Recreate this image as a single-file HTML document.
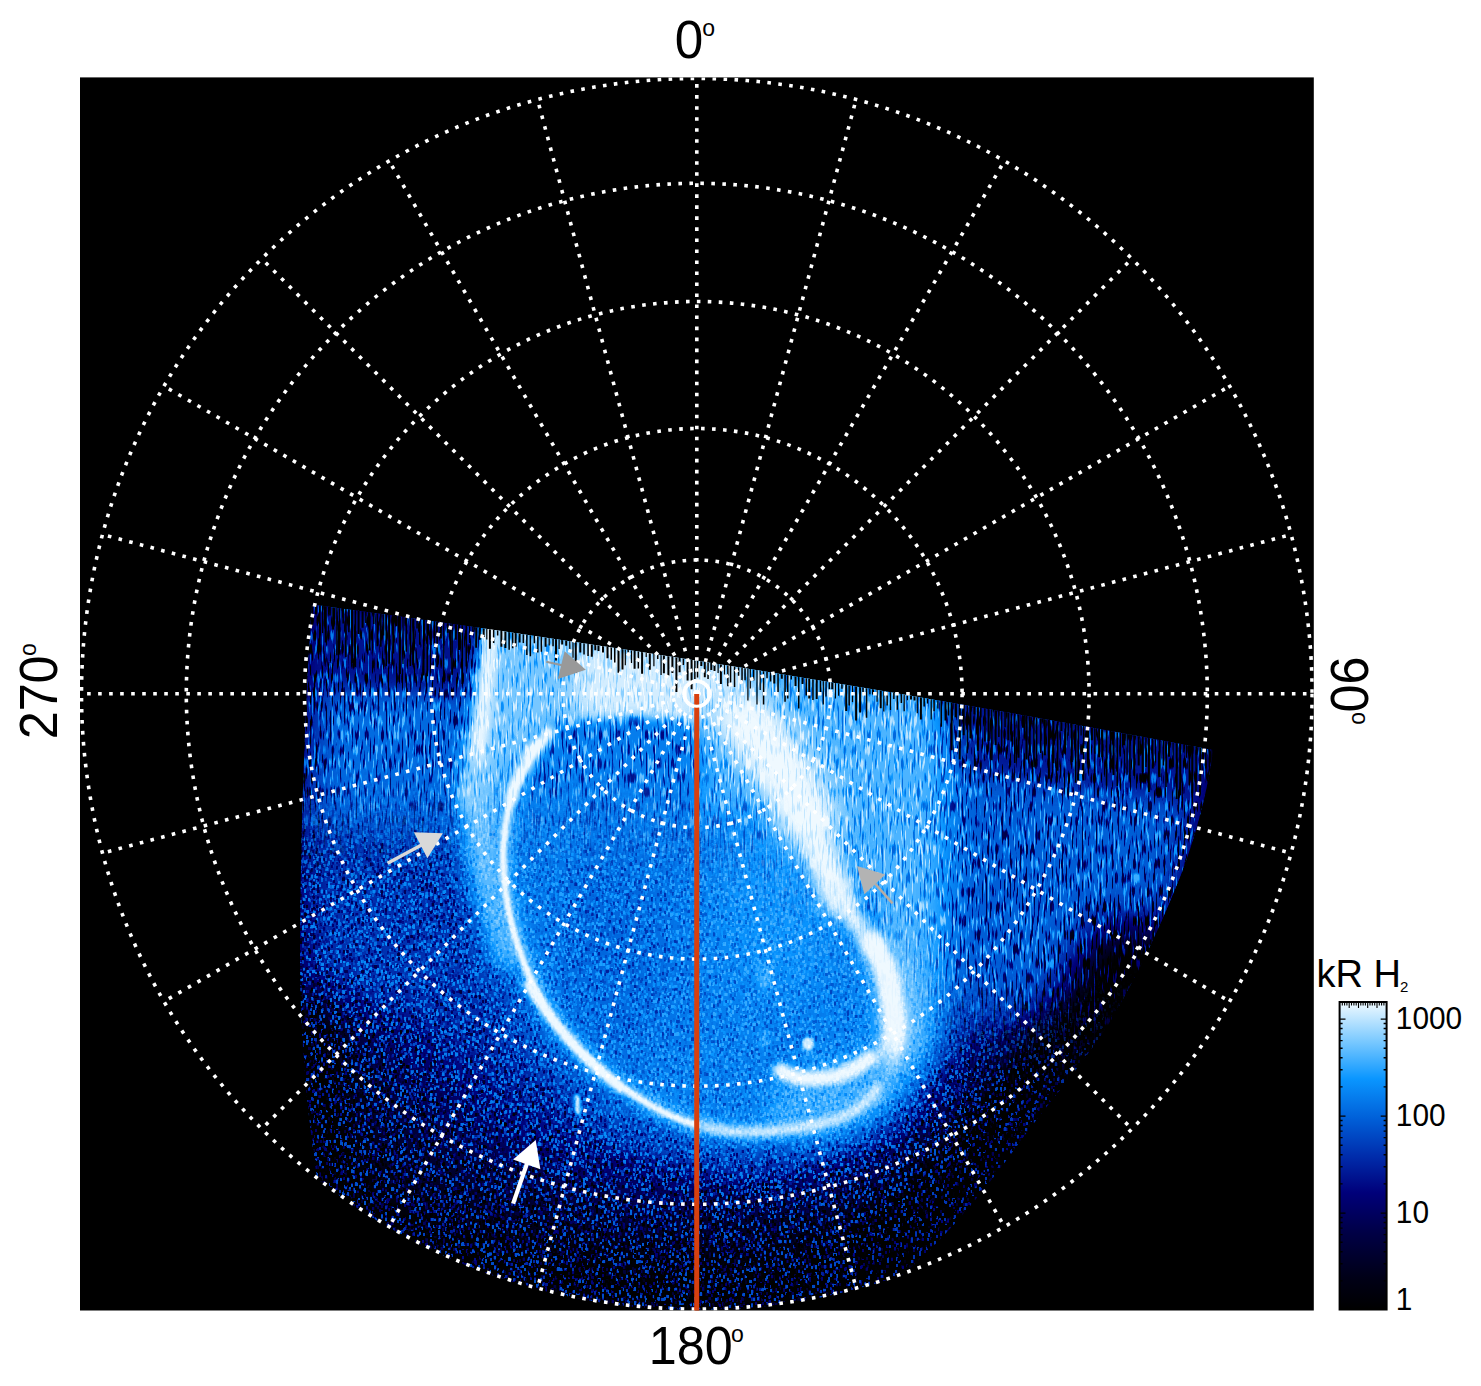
<!DOCTYPE html>
<html lang="en"><head><meta charset="utf-8"><title>Polar projection</title>
<style>html,body{margin:0;padding:0;background:#fff}svg{display:block}text{font-family:"Liberation Sans",sans-serif;fill:#000}.grid{fill:none;stroke:#fff;stroke-width:3.6;stroke-dasharray:3.6 7.4}</style></head><body>
<svg width="1481" height="1386" viewBox="0 0 1481 1386">
<defs>
<clipPath id="frame"><rect x="80.0" y="77.4" width="1233.8" height="1233.1"/></clipPath>
<linearGradient id="cbar" x1="0" y1="1" x2="0" y2="0">
<stop offset="0.0" stop-color="rgb(0,0,0)"/>
<stop offset="0.1" stop-color="rgb(0,0,22)"/>
<stop offset="0.25" stop-color="rgb(0,0,70)"/>
<stop offset="0.38" stop-color="rgb(0,0,122)"/>
<stop offset="0.5" stop-color="rgb(0,45,172)"/>
<stop offset="0.62" stop-color="rgb(0,95,216)"/>
<stop offset="0.75" stop-color="rgb(10,150,255)"/>
<stop offset="0.87" stop-color="rgb(120,200,255)"/>
<stop offset="1.0" stop-color="rgb(240,250,255)"/>
</linearGradient>
<filter id="cmS" filterUnits="userSpaceOnUse" x="80.0" y="77.4" width="1233.8" height="1233.1" color-interpolation-filters="sRGB">
<feTurbulence type="fractalNoise" baseFrequency="0.47 0.40" numOctaves="1" seed="7" result="n"/>
<feColorMatrix in="n" type="matrix" values="10 0 0 0 -6.000 0 10 0 0 -6.500 0 0 0 0 0 0 0 0 0 1" result="m0"/>
<feOffset in="m0" dx="1" dy="0" result="m0x"/>
<feBlend in="m0" in2="m0x" mode="lighten" result="m1"/>
<feOffset in="m1" dx="0" dy="1" result="m1y"/>
<feBlend in="m1" in2="m1y" mode="lighten" result="m2"/>
<feOffset in="m1" dx="0" dy="2" result="m1z"/>
<feBlend in="m2" in2="m1z" mode="lighten" result="m3"/>
<feColorMatrix in="m3" type="matrix" values="1 0 0 0 0 1 0 0 0 0 1 0 0 0 0 0 0 0 0 1" result="nb"/>
<feColorMatrix in="m3" type="matrix" values="0 1 0 0 0 0 1 0 0 0 0 1 0 0 0 0 0 0 0 1" result="nd"/>
<feComponentTransfer in="SourceGraphic" result="aB"><feFuncR type="table" tableValues="0.62 0.55 0.48 0.4 0.33 0.26 0.19 0.115 0.06 0.035 0.02"/><feFuncG type="table" tableValues="0.62 0.55 0.48 0.4 0.33 0.26 0.19 0.115 0.06 0.035 0.02"/><feFuncB type="table" tableValues="0.62 0.55 0.48 0.4 0.33 0.26 0.19 0.115 0.06 0.035 0.02"/></feComponentTransfer>
<feComponentTransfer in="SourceGraphic" result="aD"><feFuncR type="table" tableValues="1 1 0.9 0.76 0.63 0.5 0.36 0.22 0.12 0.05 0.01"/><feFuncG type="table" tableValues="1 1 0.9 0.76 0.63 0.5 0.36 0.22 0.12 0.05 0.01"/><feFuncB type="table" tableValues="1 1 0.9 0.76 0.63 0.5 0.36 0.22 0.12 0.05 0.01"/></feComponentTransfer>
<feComposite in="aB" in2="nb" operator="arithmetic" k1="1" k2="0" k3="0" k4="0" result="tB"/>
<feComposite in="aD" in2="nd" operator="arithmetic" k1="1" k2="0" k3="0" k4="0" result="tD0"/>
<feComponentTransfer in="tD0" result="tD"><feFuncR type="linear" slope="-1" intercept="1"/><feFuncG type="linear" slope="-1" intercept="1"/><feFuncB type="linear" slope="-1" intercept="1"/></feComponentTransfer>
<feComposite in="SourceGraphic" in2="tB" operator="arithmetic" k1="0" k2="1" k3="1" k4="0" result="r1"/>
<feBlend in="r1" in2="tD" mode="multiply"/>
<feComponentTransfer>
<feFuncR type="table" tableValues="0.000 0.000 0.000 0.000 0.000 0.000 0.000 0.000 0.000 0.000 0.000 0.000 0.000 0.000 0.000 0.000 0.000 0.000 0.000 0.000 0.000 0.000 0.000 0.000 0.000 0.000 0.000 0.000 0.000 0.000 0.000 0.000 0.000 0.000 0.000 0.006 0.014 0.022 0.031 0.039 0.139 0.239 0.339 0.439 0.539 0.640 0.740 0.841 0.941"/>
<feFuncG type="table" tableValues="0.000 0.000 0.000 0.000 0.000 0.000 0.000 0.000 0.000 0.000 0.000 0.000 0.000 0.000 0.000 0.000 0.000 0.000 0.000 0.000 0.000 0.000 0.000 0.000 0.000 0.000 0.013 0.054 0.095 0.136 0.176 0.222 0.267 0.313 0.358 0.404 0.450 0.496 0.542 0.588 0.634 0.679 0.724 0.770 0.813 0.855 0.897 0.938 0.980"/>
<feFuncB type="table" tableValues="0.000 0.000 0.000 0.000 0.000 0.000 0.000 0.000 0.000 0.000 0.000 0.000 0.000 0.024 0.048 0.072 0.100 0.135 0.170 0.205 0.240 0.275 0.318 0.362 0.405 0.449 0.493 0.538 0.584 0.629 0.675 0.714 0.754 0.794 0.834 0.869 0.902 0.935 0.967 1.000 1.000 1.000 1.000 1.000 1.000 1.000 1.000 1.000 1.000"/>
</feComponentTransfer>
</filter>
<filter id="cmV" filterUnits="userSpaceOnUse" x="80.0" y="77.4" width="1233.8" height="1233.1" color-interpolation-filters="sRGB">
<feTurbulence type="fractalNoise" baseFrequency="0.5 0.07" numOctaves="1" seed="11" result="n"/>
<feColorMatrix in="n" type="matrix" values="8 0 0 0 -4.320 0 8 0 0 -4.320 0 0 0 0 0 0 0 0 0 1" result="m0"/>
<feColorMatrix in="m0" type="matrix" values="1 0 0 0 0 1 0 0 0 0 1 0 0 0 0 0 0 0 0 1" result="nb"/>
<feColorMatrix in="m0" type="matrix" values="0 1 0 0 0 0 1 0 0 0 0 1 0 0 0 0 0 0 0 1" result="nd"/>
<feComponentTransfer in="SourceGraphic" result="aB"><feFuncR type="table" tableValues="0.4 0.37 0.33 0.3 0.26 0.22 0.19 0.15 0.12 0.08 0.04"/><feFuncG type="table" tableValues="0.4 0.37 0.33 0.3 0.26 0.22 0.19 0.15 0.12 0.08 0.04"/><feFuncB type="table" tableValues="0.4 0.37 0.33 0.3 0.26 0.22 0.19 0.15 0.12 0.08 0.04"/></feComponentTransfer>
<feComponentTransfer in="SourceGraphic" result="aD"><feFuncR type="table" tableValues="1 1 1 1 0.89 0.75 0.58 0.4 0.24 0.12 0.04"/><feFuncG type="table" tableValues="1 1 1 1 0.89 0.75 0.58 0.4 0.24 0.12 0.04"/><feFuncB type="table" tableValues="1 1 1 1 0.89 0.75 0.58 0.4 0.24 0.12 0.04"/></feComponentTransfer>
<feComposite in="aB" in2="nb" operator="arithmetic" k1="1" k2="0" k3="0" k4="0" result="tB"/>
<feComposite in="aD" in2="nd" operator="arithmetic" k1="1" k2="0" k3="0" k4="0" result="tD0"/>
<feComponentTransfer in="tD0" result="tD"><feFuncR type="linear" slope="-1" intercept="1"/><feFuncG type="linear" slope="-1" intercept="1"/><feFuncB type="linear" slope="-1" intercept="1"/></feComponentTransfer>
<feComposite in="SourceGraphic" in2="tB" operator="arithmetic" k1="0" k2="1" k3="1" k4="0" result="r1"/>
<feBlend in="r1" in2="tD" mode="multiply"/>
<feComponentTransfer>
<feFuncR type="table" tableValues="0.000 0.000 0.000 0.000 0.000 0.000 0.000 0.000 0.000 0.000 0.000 0.000 0.000 0.000 0.000 0.000 0.000 0.000 0.000 0.000 0.000 0.000 0.000 0.000 0.000 0.000 0.000 0.000 0.000 0.000 0.000 0.000 0.000 0.000 0.000 0.006 0.014 0.022 0.031 0.039 0.139 0.239 0.339 0.439 0.539 0.640 0.740 0.841 0.941"/>
<feFuncG type="table" tableValues="0.000 0.000 0.000 0.000 0.000 0.000 0.000 0.000 0.000 0.000 0.000 0.000 0.000 0.000 0.000 0.000 0.000 0.000 0.000 0.000 0.000 0.000 0.000 0.000 0.000 0.000 0.013 0.054 0.095 0.136 0.176 0.222 0.267 0.313 0.358 0.404 0.450 0.496 0.542 0.588 0.634 0.679 0.724 0.770 0.813 0.855 0.897 0.938 0.980"/>
<feFuncB type="table" tableValues="0.000 0.000 0.000 0.000 0.000 0.000 0.000 0.000 0.000 0.000 0.000 0.000 0.000 0.024 0.048 0.072 0.100 0.135 0.170 0.205 0.240 0.275 0.318 0.362 0.405 0.449 0.493 0.538 0.584 0.629 0.675 0.714 0.754 0.794 0.834 0.869 0.902 0.935 0.967 1.000 1.000 1.000 1.000 1.000 1.000 1.000 1.000 1.000 1.000"/>
</feComponentTransfer>
</filter>
<clipPath id="data"><path d="M312 604.5 Q763 665 1213 750 C1208 790 1196 835 1182 872 C1165 915 1142 968 1111 1020 C1085 1062 1050 1100 1014 1150 C985 1190 950 1232 917 1262 C900 1278 885 1290 872 1300 L800 1311 L300 1311 L318 1185 C308 1120 300 1040 300 960 C300 850 305 700 312 604.5Z"/></clipPath>
<clipPath id="outer"><circle cx="696.8" cy="693.8" r="616.3"/></clipPath>
<filter id="mblur" filterUnits="userSpaceOnUse" x="0" y="0" width="1481" height="1386"><feGaussianBlur stdDeviation="35"/></filter>
<mask id="topmask" maskUnits="userSpaceOnUse" x="0" y="0" width="1481" height="1386"><path d="M200 500 L1400 500 L1400 1040 L1000 1040 C900 1000 850 860 700 830 C550 800 400 830 200 830Z" fill="#fff" filter="url(#mblur)"/></mask>
</defs>
<rect x="80.0" y="77.4" width="1233.8" height="1233.1" fill="#000"/>
<defs><g id="inten">
<rect x="80.0" y="77.4" width="1233.8" height="1233.1" fill="#000"/>
<path d="M312 604.5 Q763 665 1213 750 C1208 790 1196 835 1182 872 C1165 915 1142 968 1111 1020 C1085 1062 1050 1100 1014 1150 C985 1190 950 1232 917 1262 C900 1278 885 1290 872 1300 L800 1311 L300 1311 L318 1185 C308 1120 300 1040 300 960 C300 850 305 700 312 604.5Z" fill="#4b4b4b"/>
<ellipse cx="680" cy="930" rx="400" ry="330" fill="#707070" filter="url(#b60)"/>
<ellipse cx="700" cy="900" rx="330" ry="275" fill="#9f9f9f" filter="url(#b40)"/>
<path d="M300 660 L480 670 L480 860 L296 860Z" fill="#bcbcbc" filter="url(#b25)"/>
<path d="M296 840 L470 840 L480 1010 L296 1010Z" fill="#a1a1a1" filter="url(#b25)"/>
<path d="M305 590 L480 615 L480 692 L305 680Z" fill="#929292" filter="url(#b10)"/>
<path d="M900 730 L1215 775 L1175 960 L1100 1040 L900 1000Z" fill="#b6b6b6" filter="url(#b25)"/>
<path d="M960 690 L1215 735 L1207 800 L960 770Z" fill="#949494" filter="url(#b10)"/>
<path d="M1150 940 C1140 968 1125 995 1111 1020 C1085 1062 1050 1100 1014 1150 C985 1190 950 1232 917 1262 C900 1278 885 1290 860 1310" fill="none" stroke="#000" stroke-width="90" filter="url(#b25)" opacity="0.85"/>
<path d="M300 1330 L300 1215 C450 1245 600 1260 700 1260 C800 1260 900 1250 1000 1215 L1000 1330Z" fill="#000" filter="url(#b40)" opacity="0.4"/>
<path d="M280 1000 L330 1000 L345 1320 L280 1320Z" fill="#000" filter="url(#b25)" opacity="0.6"/>
<path d="M548 735 C600 720 660 715 700 728 C740 735 790 760 830 820 C865 870 895 930 900 1010 C900 1060 880 1095 850 1112 C800 1135 740 1135 697 1124 C650 1112 600 1075 565 1035 C530 990 503 920 503 855 C505 800 520 765 548 735Z" fill="none" stroke="#b2b2b2" stroke-width="76" stroke-linecap="round" stroke-linejoin="round" filter="url(#b14)"/>
<path d="M700 630 L950 670 L950 900 L940 1040 L905 1100 L870 1000 L760 780 L700 740Z" fill="#dddddd" filter="url(#b16)"/>
<path d="M486 600 L700 630 L700 724 L616 724 L557 727 L540 743 L517 766 L503 800 L500 850 L505 905 L522 960 L500 975 L478 905 L464 850 L457 790 L460 760 L466 732Z" fill="#e6e6e6" filter="url(#b10)"/>
<path d="M492 620 C488 670 483 715 476 765" fill="none" stroke="#ffffff" stroke-width="17" stroke-linecap="butt" stroke-linejoin="round" filter="url(#b5)"/>
<path d="M476 755 C473 775 470 790 466 810" fill="none" stroke="#ececec" stroke-width="14" stroke-linecap="butt" stroke-linejoin="round" filter="url(#b6)"/>
<path d="M585 640 L740 660 L745 720 L700 735 L640 718 L590 722 L570 700Z" fill="#f9f9f9" filter="url(#b10)"/>
<path d="M548 735 C600 720 660 715 700 728 C740 735 790 760 830 820 C865 870 895 930 900 1010 C900 1060 880 1095 850 1112 C800 1135 740 1135 697 1124 C650 1112 600 1075 565 1035 C530 990 503 920 503 855 C505 800 520 765 548 735Z" fill="#c4c4c4" filter="url(#b6)"/>
<ellipse cx="610" cy="955" rx="65" ry="120" fill="#bababa" filter="url(#b25)"/>
<ellipse cx="780" cy="900" rx="60" ry="100" fill="#cfcfcf" filter="url(#b25)"/>
<path d="M700 705 L745 720 L770 790 L740 820 L700 815Z" fill="#d9d9d9" filter="url(#b12)"/>
<path d="M738 712 C765 740 790 775 808 815" fill="none" stroke="#f5f5f5" stroke-width="70" stroke-linecap="round" stroke-linejoin="round" filter="url(#b14)"/>
<path d="M808 815 C816 835 824 860 842 900" fill="none" stroke="#f2f2f2" stroke-width="40" stroke-linecap="round" stroke-linejoin="round" filter="url(#b10)"/>
<path d="M746 722 C770 750 792 785 806 815" fill="none" stroke="#ffffff" stroke-width="44" stroke-linecap="round" stroke-linejoin="round" filter="url(#b8)"/>
<path d="M806 815 C814 835 822 862 840 898" fill="none" stroke="#ffffff" stroke-width="24" stroke-linecap="round" stroke-linejoin="round" filter="url(#b6)"/>
<path d="M836 890 C848 912 860 930 875 948" fill="none" stroke="#fbfbfb" stroke-width="18" stroke-linecap="round" stroke-linejoin="round" filter="url(#b4)"/>
<path d="M873 943 C886 965 893 990 895 1030 C893 1052 886 1066 869 1085" fill="none" stroke="#ececec" stroke-width="42" stroke-linecap="round" stroke-linejoin="round" filter="url(#b10)" opacity="0.7"/>
<path d="M873 943 C886 965 893 990 895 1030 C893 1052 886 1066 869 1085" fill="none" stroke="#ffffff" stroke-width="24" stroke-linecap="round" stroke-linejoin="round" filter="url(#b3)"/>
<ellipse cx="835" cy="1095" rx="70" ry="38" fill="#d9d9d9" filter="url(#b12)" transform="rotate(-20 835 1095)"/>
<path d="M780 1070 C790 1076 800 1079 808 1079 C822 1079 832 1077 841 1075 C852 1070 862 1065 870 1058" fill="none" stroke="#ffffff" stroke-width="15" stroke-linecap="round" stroke-linejoin="round" filter="url(#b3)"/>
<ellipse cx="808" cy="1044" rx="6" ry="7" fill="#f9f9f9" filter="url(#b1_5)"/>
<ellipse cx="765" cy="977" rx="6" ry="12" fill="#dddddd" filter="url(#b3)"/>
<ellipse cx="765" cy="1040" rx="5" ry="9" fill="#d9d9d9" filter="url(#b3)"/>
<path d="M697 1125 C720 1131 745 1134 769 1131 C790 1130 815 1126 841 1118 C858 1110 870 1100 878 1088" fill="none" stroke="#d9d9d9" stroke-width="24" stroke-linecap="round" stroke-linejoin="round" filter="url(#b6)" opacity="0.7"/>
<path d="M697 1125 C720 1131 745 1134 769 1131 C790 1130 815 1126 841 1118 C858 1110 870 1100 878 1088" fill="none" stroke="#f9f9f9" stroke-width="10" stroke-linecap="round" stroke-linejoin="round" filter="url(#b3)"/>
<path d="M577 1100 C580 1118 600 1135 631 1145 C650 1150 665 1151 680 1150" fill="none" stroke="#a9a9a9" stroke-width="8" stroke-linecap="round" stroke-linejoin="round" filter="url(#b3)"/>
<path d="M577 1097 L578 1112" fill="none" stroke="#f5f5f5" stroke-width="6" stroke-linecap="round" stroke-linejoin="round" filter="url(#b1_5)"/>
<path d="M548 733 C520 765 505 800 503 855 C503 920 528 990 565 1035 C600 1075 650 1112 697 1125" fill="none" stroke="#e2e2e2" stroke-width="18" stroke-linecap="round" stroke-linejoin="round" filter="url(#b6)"/>
<path d="M548 733 C520 765 505 800 503 855 C503 920 528 990 565 1035 C600 1075 650 1112 697 1125" fill="none" stroke="#ffffff" stroke-width="6.5" stroke-linecap="round" stroke-linejoin="round" filter="url(#b1_5)"/>
<path d="M528 985 C540 1005 552 1020 565 1035 C582 1055 600 1072 620 1088" fill="none" stroke="#ffffff" stroke-width="9" stroke-linecap="round" stroke-linejoin="round" filter="url(#b2)"/>
<path d="M548 733 C530 752 518 772 510 800" fill="none" stroke="#ffffff" stroke-width="12" stroke-linecap="round" stroke-linejoin="round" filter="url(#b3)"/>
</g>
<filter id="b1_5" filterUnits="userSpaceOnUse" x="0" y="0" width="1481" height="1386"><feGaussianBlur stdDeviation="1.5"/></filter>
<filter id="b2" filterUnits="userSpaceOnUse" x="0" y="0" width="1481" height="1386"><feGaussianBlur stdDeviation="2"/></filter>
<filter id="b3" filterUnits="userSpaceOnUse" x="0" y="0" width="1481" height="1386"><feGaussianBlur stdDeviation="3"/></filter>
<filter id="b4" filterUnits="userSpaceOnUse" x="0" y="0" width="1481" height="1386"><feGaussianBlur stdDeviation="4"/></filter>
<filter id="b5" filterUnits="userSpaceOnUse" x="0" y="0" width="1481" height="1386"><feGaussianBlur stdDeviation="5"/></filter>
<filter id="b6" filterUnits="userSpaceOnUse" x="0" y="0" width="1481" height="1386"><feGaussianBlur stdDeviation="6"/></filter>
<filter id="b8" filterUnits="userSpaceOnUse" x="0" y="0" width="1481" height="1386"><feGaussianBlur stdDeviation="8"/></filter>
<filter id="b10" filterUnits="userSpaceOnUse" x="0" y="0" width="1481" height="1386"><feGaussianBlur stdDeviation="10"/></filter>
<filter id="b12" filterUnits="userSpaceOnUse" x="0" y="0" width="1481" height="1386"><feGaussianBlur stdDeviation="12"/></filter>
<filter id="b14" filterUnits="userSpaceOnUse" x="0" y="0" width="1481" height="1386"><feGaussianBlur stdDeviation="14"/></filter>
<filter id="b16" filterUnits="userSpaceOnUse" x="0" y="0" width="1481" height="1386"><feGaussianBlur stdDeviation="16"/></filter>
<filter id="b25" filterUnits="userSpaceOnUse" x="0" y="0" width="1481" height="1386"><feGaussianBlur stdDeviation="25"/></filter>
<filter id="b40" filterUnits="userSpaceOnUse" x="0" y="0" width="1481" height="1386"><feGaussianBlur stdDeviation="40"/></filter>
<filter id="b60" filterUnits="userSpaceOnUse" x="0" y="0" width="1481" height="1386"><feGaussianBlur stdDeviation="60"/></filter>
</defs>
<g clip-path="url(#outer)"><g clip-path="url(#data)">
<use href="#inten" filter="url(#cmS)"/>
<g mask="url(#topmask)"><use href="#inten" filter="url(#cmV)"/></g>
<path d="M311.0 602.2v23.3h2v-23.3zM315.0 602.8v11.5h2v-11.5zM319.0 603.3v43.7h1.5v-43.7zM322.0 603.7v29.3h1.2v-29.3zM324.7 604.1v38.3h2v-38.3zM329.2 604.7v10.7h1.5v-10.7zM332.2 605.1v24.5h2v-24.5zM336.2 605.6v49.6h1.5v-49.6zM338.9 606.0v42.1h1.5v-42.1zM342.4 606.5v16.9h1.5v-16.9zM345.1 606.9v50.2h1.5v-50.2zM348.1 607.3v25.0h1.5v-25.0zM351.1 607.7v55.6h2v-55.6zM354.6 608.2v58.9h1.5v-58.9zM357.6 608.6v25.5h2v-25.5zM361.6 609.1v18.6h2v-18.6zM365.1 609.6v13.4h1.5v-13.4zM368.6 610.1v40.5h2v-40.5zM373.1 610.7v13.4h1.5v-13.4zM376.6 611.2v35.0h1.5v-35.0zM380.1 611.7v35.0h1.5v-35.0zM383.1 612.1v23.3h1.2v-23.3zM385.5 612.4v53.9h1.5v-53.9zM388.2 612.8v51.0h2v-51.0zM392.2 613.3v40.1h2v-40.1zM395.4 613.8v12.4h2v-12.4zM398.9 614.3v59.7h2v-59.7zM402.4 614.8v49.3h1.2v-49.3zM405.6 615.2v36.6h1.5v-36.6zM409.6 615.8v50.3h1.5v-50.3zM412.3 616.2v48.9h2v-48.9zM416.3 616.7v11.9h1.5v-11.9zM419.0 617.1v27.7h1.5v-27.7zM423.0 617.7v57.7h1.5v-57.7zM426.5 618.2v58.1h1.5v-58.1zM430.5 618.7v26.2h1.2v-26.2zM433.7 619.2v19.2h1.5v-19.2zM436.4 619.6v47.5h1.5v-47.5zM439.9 620.1v18.4h2v-18.4zM443.1 620.5v61.3h1.2v-61.3zM446.8 621.0v11.7h2v-11.7zM451.3 621.7v53.0h1.5v-53.0zM454.8 622.2v17.6h2v-17.6zM458.0 622.6v27.4h2v-27.4zM461.5 623.1v61.0h1.5v-61.0zM465.5 623.7v42.8h1.5v-42.8zM469.0 624.2v18.8h1.2v-18.8zM472.2 624.7v7.1h1.5v-7.1zM475.2 625.1v22.6h2v-22.6zM478.7 625.6v14.2h2v-14.2zM482.7 626.2v10.9h2v-10.9zM486.2 626.7v12.8h1.2v-12.8zM488.9 627.1v21.6h2v-21.6zM492.9 627.7v15.3h1.5v-15.3zM496.9 628.3v7.1h1.5v-7.1zM500.4 628.8v18.0h2v-18.0zM504.4 629.4v18.7h2v-18.7zM508.4 629.9v19.9h1.5v-19.9zM511.9 630.5v17.7h1.5v-17.7zM514.6 630.9v15.8h2v-15.8zM518.6 631.4v11.2h2v-11.2zM522.6 632.0v10.9h1.5v-10.9zM526.1 632.5v22.6h1.5v-22.6zM529.6 633.1v23.2h1.5v-23.2zM533.6 633.7v9.6h1.5v-9.6zM537.1 634.2v18.4h1.5v-18.4zM540.6 634.7v17.1h1.5v-17.1zM544.6 635.3v11.4h2v-11.4zM548.6 635.9v9.5h1.2v-9.5zM552.3 636.4v9.9h1.5v-9.9zM555.0 636.8v23.6h2v-23.6zM558.5 637.4v11.7h1.2v-11.7zM561.2 637.8v6.6h2v-6.6zM565.2 638.4v7.3h2v-7.3zM569.2 639.0v12.3h1.2v-12.3zM572.4 639.4v18.4h1.2v-18.4zM574.8 639.8v33.0h2v-33.0zM579.3 640.5v12.1h2v-12.1zM583.3 641.1v13.5h1.5v-13.5zM587.3 641.7v14.4h1.5v-14.4zM590.8 642.2v14.6h2v-14.6zM594.3 642.7v7.6h2v-7.6zM597.5 643.2v7.9h2v-7.9zM602.0 643.9v8.5h2v-8.5zM606.5 644.6v13.7h2v-13.7zM610.5 645.2v14.6h1.5v-14.6zM614.0 645.7v16.7h1.5v-16.7zM617.5 646.3v26.5h2v-26.5zM621.5 646.9v22.7h2v-22.7zM624.7 647.4v17.9h1.2v-17.9zM627.4 647.8v6.7h1.5v-6.7zM630.9 648.3v14.6h1.2v-14.6zM633.6 648.7v20.1h2v-20.1zM637.6 649.4v19.0h1.5v-19.0zM641.1 649.9v23.9h2v-23.9zM645.6 650.6v6.3h1.2v-6.3zM648.8 651.1v18.7h2v-18.7zM653.3 651.8v14.4h1.2v-14.4zM657.0 652.4v6.7h1.5v-6.7zM660.5 652.9v22.0h1.2v-22.0zM662.9 653.3v20.0h2v-20.0zM667.4 654.0v21.5h2v-21.5zM671.4 654.6v18.3h2v-18.3zM675.4 655.2v36.9h2v-36.9zM678.6 655.7v16.5h2v-16.5zM682.6 656.3v8.6h1.5v-8.6zM686.6 657.0v23.5h2v-23.5zM690.6 657.6v31.7h2v-31.7zM694.1 658.2v20.8h1.5v-20.8zM696.8 658.6v19.0h1.5v-19.0zM700.3 659.1v6.9h2v-6.9zM703.8 659.7v17.6h2v-17.6zM707.3 660.2v18.7h1.5v-18.7zM710.3 660.7v9.3h2v-9.3zM713.5 661.2v9.8h2v-9.8zM717.5 661.9v11.0h1.2v-11.0zM719.9 662.2v21.8h2v-21.8zM723.9 662.9v11.7h1.2v-11.7zM727.1 663.4v22.9h1.5v-22.9zM729.8 663.8v18.6h1.5v-18.6zM733.8 664.5v22.4h1.5v-22.4zM737.8 665.1v10.7h1.5v-10.7zM741.3 665.7v15.3h1.5v-15.3zM744.3 666.1v14.2h1.5v-14.2zM747.3 666.6v33.8h1.2v-33.8zM749.7 667.0v21.5h1.2v-21.5zM752.9 667.5v13.0h1.5v-13.0zM756.4 668.1v36.3h1.2v-36.3zM759.6 668.6v21.3h1.2v-21.3zM762.8 669.1v35.5h1.5v-35.5zM766.3 669.7v8.5h1.5v-8.5zM769.8 670.2v11.2h1.5v-11.2zM773.3 670.8v12.8h2v-12.8zM777.3 671.5v20.5h1.5v-20.5zM780.8 672.0v6.7h2v-6.7zM784.3 672.6v29.1h1.5v-29.1zM787.0 673.0v25.6h1.5v-25.6zM790.5 673.6v6.0h1.5v-6.0zM794.5 674.3v11.8h2v-11.8zM798.0 674.8v33.8h1.5v-33.8zM801.5 675.4v8.7h2v-8.7zM805.5 676.1v19.5h1.5v-19.5zM808.2 676.5v22.1h2v-22.1zM812.2 677.2v22.9h1.5v-22.9zM815.7 677.7v21.3h2v-21.3zM819.7 678.4v14.2h1.5v-14.2zM822.7 678.9v25.6h1.2v-25.6zM825.4 679.3v17.1h1.2v-17.1zM828.6 679.9v9.3h1.5v-9.3zM831.3 680.3v8.9h2v-8.9zM834.8 680.9v17.6h1.2v-17.6zM838.0 681.4v14.3h1.2v-14.3zM841.2 682.0v6.8h1.5v-6.8zM845.2 682.6v28.3h2v-28.3zM848.4 683.2v22.2h1.5v-22.2zM851.9 683.7v18.3h1.2v-18.3zM855.1 684.3v36.1h2v-36.1zM859.1 685.0v27.5h2v-27.5zM862.3 685.5v9.2h1.5v-9.2zM865.8 686.1v31.6h1.5v-31.6zM869.3 686.7v7.6h1.2v-7.6zM872.0 687.1v7.4h2v-7.4zM876.5 687.9v13.9h1.2v-13.9zM879.7 688.4v19.8h2v-19.8zM883.2 689.0v22.4h1.2v-22.4zM886.4 689.5v16.0h1.5v-16.0zM889.9 690.1v20.0h1.2v-20.0zM893.1 690.7v8.4h1.5v-8.4zM896.6 691.3v18.5h1.5v-18.5zM900.6 691.9v11.0h1.5v-11.0zM903.6 692.5v18.7h1.2v-18.7zM906.8 693.0v7.3h1.2v-7.3zM910.0 693.5v6.0h2v-6.0zM913.5 694.1v6.5h2v-6.5zM916.7 694.7v18.6h1.2v-18.6zM919.9 695.2v24.3h2v-24.3zM923.4 695.8v10.7h1.5v-10.7zM926.9 696.4v7.1h1.2v-7.1zM930.6 697.1v22.5h1.2v-22.5zM933.3 697.5v13.8h1.5v-13.8zM937.3 698.2v10.2h1.2v-10.2zM940.5 698.8v27.9h1.5v-27.9zM944.5 699.5v20.9h2v-20.9zM947.7 700.0v15.5h1.5v-15.5zM950.7 700.5v49.8h2v-49.8zM954.7 701.2v16.1h2v-16.1zM958.7 701.9v57.6h2v-57.6zM962.7 702.6v32.6h2v-32.6zM966.7 703.3v49.9h1.2v-49.9zM969.4 703.8v34.6h2v-34.6zM973.4 704.5v10.1h2v-10.1zM976.9 705.1v45.6h2v-45.6zM980.4 705.7v11.7h1.2v-11.7zM984.1 706.3v35.1h1.5v-35.1zM987.6 707.0v34.1h2v-34.1zM991.1 707.6v52.7h1.5v-52.7zM994.6 708.2v36.8h2v-36.8zM998.1 708.8v28.3h1.5v-28.3zM1001.1 709.3v42.1h1.2v-42.1zM1004.3 709.9v17.4h1.5v-17.4zM1007.3 710.4v29.8h2v-29.8zM1010.5 711.0v30.6h1.5v-30.6zM1014.0 711.6v51.4h1.5v-51.4zM1017.5 712.2v45.5h2v-45.5zM1022.0 713.0v14.7h2v-14.7zM1025.5 713.6v45.8h2v-45.8zM1028.7 714.2v41.5h2v-41.5zM1033.2 715.0v52.3h1.5v-52.3zM1035.9 715.5v45.3h1.5v-45.3zM1039.9 716.2v36.7h1.5v-36.7zM1043.9 716.9v38.4h2v-38.4zM1047.9 717.6v61.1h2v-61.1zM1052.4 718.4v44.8h2v-44.8zM1056.9 719.2v51.5h1.5v-51.5zM1060.4 719.9v11.0h2v-11.0zM1064.9 720.7v24.8h1.5v-24.8zM1067.6 721.2v14.5h1.2v-14.5zM1070.8 721.7v40.2h2v-40.2zM1074.8 722.4v60.4h1.5v-60.4zM1077.5 722.9v58.3h1.5v-58.3zM1080.5 723.5v12.0h1.2v-12.0zM1082.9 723.9v56.7h1.5v-56.7zM1086.9 724.6v39.2h2v-39.2zM1090.9 725.4v14.8h2v-14.8zM1094.1 725.9v27.8h1.5v-27.8zM1098.1 726.7v30.5h2v-30.5zM1101.3 727.2v29.7h2v-29.7zM1105.8 728.1v57.3h1.5v-57.3zM1109.8 728.8v30.1h1.5v-30.1zM1112.5 729.3v45.8h2v-45.8zM1116.5 730.0v56.1h1.5v-56.1zM1119.5 730.6v25.9h1.5v-25.9zM1123.0 731.2v14.1h2v-14.1zM1126.5 731.9v42.9h1.2v-42.9zM1129.2 732.3v44.1h1.5v-44.1zM1133.2 733.1v42.6h2v-42.6zM1137.7 733.9v31.7h2v-31.7zM1141.7 734.6v37.5h2v-37.5zM1145.2 735.3v31.8h1.5v-31.8zM1147.9 735.8v56.2h2v-56.2zM1151.9 736.5v31.9h1.5v-31.9zM1154.9 737.1v25.4h1.2v-25.4zM1158.6 737.8v39.3h2v-39.3zM1162.6 738.5v27.0h1.5v-27.0zM1165.3 739.0v47.9h1.5v-47.9zM1168.0 739.5v17.2h2v-17.2zM1172.5 740.4v26.6h1.2v-26.6zM1175.7 740.9v58.2h2v-58.2zM1179.2 741.6v53.7h2v-53.7zM1183.2 742.3v10.1h1.2v-10.1zM1185.9 742.9v14.8h1.2v-14.8zM1188.6 743.4v42.0h1.5v-42.0zM1191.3 743.9v49.4h2v-49.4zM1195.3 744.6v47.1h1.5v-47.1zM1199.3 745.4v42.5h2v-42.5zM1202.5 746.0v15.3h1.5v-15.3zM1205.2 746.5v20.7h1.5v-20.7zM1208.7 747.1v33.9h1.5v-33.9zM1211.4 747.6v31.0h1.5v-31.0z" fill="#000"/>
</g></g>
<g class="grid" clip-path="url(#frame)">
<circle cx="696.8" cy="693.8" r="615.3"/>
<circle cx="696.8" cy="693.8" r="510.5"/>
<circle cx="696.8" cy="693.8" r="392.3"/>
<circle cx="696.8" cy="693.8" r="265.3"/>
<circle cx="696.8" cy="693.8" r="133.8"/>
<path d="M696.8 693.8L696.8 78.5" stroke-dasharray="3.6 7.42"/>
<path d="M696.8 693.8L856.1 99.5" stroke-dasharray="3.6 7.42"/>
<path d="M696.8 693.8L1004.4 160.9" stroke-dasharray="3.6 7.42"/>
<path d="M696.8 693.8L1131.9 258.7" stroke-dasharray="3.6 7.42"/>
<path d="M696.8 693.8L1229.7 386.1" stroke-dasharray="3.6 7.42"/>
<path d="M696.8 693.8L1291.1 534.5" stroke-dasharray="3.6 7.42"/>
<path d="M696.8 693.8L1312.1 693.8" stroke-dasharray="3.6 7.42"/>
<path d="M696.8 693.8L1291.1 853.1" stroke-dasharray="3.6 7.42"/>
<path d="M696.8 693.8L1229.7 1001.4" stroke-dasharray="3.6 7.42"/>
<path d="M696.8 693.8L1131.9 1128.9" stroke-dasharray="3.6 7.42"/>
<path d="M696.8 693.8L1004.4 1226.7" stroke-dasharray="3.6 7.42"/>
<path d="M696.8 693.8L856.1 1288.1" stroke-dasharray="3.6 7.42"/>
<path d="M696.8 693.8L696.8 1309.1" stroke-dasharray="3.6 7.42"/>
<path d="M696.8 693.8L537.5 1288.1" stroke-dasharray="3.6 7.42"/>
<path d="M696.8 693.8L389.1 1226.7" stroke-dasharray="3.6 7.42"/>
<path d="M696.8 693.8L261.7 1128.9" stroke-dasharray="3.6 7.42"/>
<path d="M696.8 693.8L163.9 1001.5" stroke-dasharray="3.6 7.42"/>
<path d="M696.8 693.8L102.5 853.1" stroke-dasharray="3.6 7.42"/>
<path d="M696.8 693.8L81.5 693.8" stroke-dasharray="3.6 7.42"/>
<path d="M696.8 693.8L102.5 534.5" stroke-dasharray="3.6 7.42"/>
<path d="M696.8 693.8L163.9 386.1" stroke-dasharray="3.6 7.42"/>
<path d="M696.8 693.8L261.7 258.7" stroke-dasharray="3.6 7.42"/>
<path d="M696.8 693.8L389.1 160.9" stroke-dasharray="3.6 7.42"/>
<path d="M696.8 693.8L537.5 99.5" stroke-dasharray="3.6 7.42"/>
</g>
<rect x="694.2" y="694" width="5" height="616.5" fill="#d8400f"/>
<circle cx="696.8" cy="693.8" r="12.4" fill="none" stroke="#fff" stroke-width="3"/>
<path d="M546.3 661.7L562 665.2" stroke="#999" stroke-width="2" fill="none"/>
<path d="M585.8 669.8L564.6 651.3L557.8 679.0Z" fill="#999"/>
<path d="M387.6 863.3L422 844.8" stroke="#d9d9d9" stroke-width="3.4" fill="none"/>
<path d="M442.9 833.3L413.9 832.3L427.4 858.3Z" fill="#d9d9d9"/>
<path d="M892.5 903.3L875 883.5" stroke="#b8aca2" stroke-width="2.6" fill="none"/>
<path d="M857.0 865.9L885.4 874.6L864.4 894.2Z" fill="#b3b3b3"/>
<path d="M513.1 1203.6L527 1163.5" stroke="#fff" stroke-width="4.2" fill="none"/>
<path d="M535.7 1140.1L513.1 1159.4L540.4 1169.2Z" fill="#fff"/>
<text transform="translate(674.8 58.2) scale(0.94 1)" font-size="54.5">0<tspan font-size="24.5" dx="-1.2" dy="-21.8">o</tspan></text>
<text transform="translate(648.8 1364.3) scale(0.94 1)" font-size="53.5">180<tspan font-size="24.5" dx="-1.8" dy="-22">o</tspan></text>
<text transform="translate(56.9 739.3) rotate(-90) scale(0.94 1)" font-size="53.5">270<tspan font-size="24.5" dx="-0.5" dy="-20.5">o</tspan></text>
<text transform="translate(1331.1 656.6) rotate(90) scale(0.94 1)" font-size="53.5">90<tspan font-size="24.5" dx="-0.5" dy="-21.2">o</tspan></text>
<text x="1316.5" y="986.8" font-size="38">kR H<tspan font-size="15" dx="-1" dy="5.2">2</tspan></text>
<rect x="1339.6" y="1002" width="47" height="307.5" fill="url(#cbar)" stroke="#000" stroke-width="2"/>
<path d="M1340 1280.9h2.6M1386.2 1280.9h-2.6M1340 1263.8h2.6M1386.2 1263.8h-2.6M1340 1251.7h2.6M1386.2 1251.7h-2.6M1340 1242.3h2.6M1386.2 1242.3h-2.6M1340 1234.6h2.6M1386.2 1234.6h-2.6M1340 1228.1h2.6M1386.2 1228.1h-2.6M1340 1222.5h2.6M1386.2 1222.5h-2.6M1340 1217.5h2.6M1386.2 1217.5h-2.6M1340 1213.1h5.5M1386.2 1213.1h-5.5M1340 1183.9h2.6M1386.2 1183.9h-2.6M1340 1166.8h2.6M1386.2 1166.8h-2.6M1340 1154.7h2.6M1386.2 1154.7h-2.6M1340 1145.3h2.6M1386.2 1145.3h-2.6M1340 1137.6h2.6M1386.2 1137.6h-2.6M1340 1131.1h2.6M1386.2 1131.1h-2.6M1340 1125.5h2.6M1386.2 1125.5h-2.6M1340 1120.5h2.6M1386.2 1120.5h-2.6M1340 1116.1h5.5M1386.2 1116.1h-5.5M1340 1086.9h2.6M1386.2 1086.9h-2.6M1340 1069.8h2.6M1386.2 1069.8h-2.6M1340 1057.7h2.6M1386.2 1057.7h-2.6M1340 1048.3h2.6M1386.2 1048.3h-2.6M1340 1040.6h2.6M1386.2 1040.6h-2.6M1340 1034.1h2.6M1386.2 1034.1h-2.6M1340 1028.5h2.6M1386.2 1028.5h-2.6M1340 1023.5h2.6M1386.2 1023.5h-2.6M1340 1019.1h5.5M1386.2 1019.1h-5.5" stroke="#000" stroke-width="1.4" fill="none"/>
<path d="M1342.3 1002v3.6M1344.6 1002v3.6M1346.9 1002v3.6M1349.2 1002v6M1351.5 1002v3.6M1353.9 1002v3.6M1356.2 1002v3.6M1358.5 1002v6M1360.8 1002v3.6M1363.1 1002v3.6M1365.4 1002v3.6M1367.7 1002v6M1370.0 1002v3.6M1372.3 1002v3.6M1374.7 1002v3.6M1377.0 1002v6M1379.3 1002v3.6M1381.6 1002v3.6M1383.9 1002v3.6" stroke="#000" stroke-width="1.1" fill="none"/>
<text transform="translate(1395.8 1029.1) scale(0.95 1)" font-size="31.4">1000</text>
<text transform="translate(1395.8 1126.1) scale(0.95 1)" font-size="31.4">100</text>
<text transform="translate(1395.8 1223.1) scale(0.95 1)" font-size="31.4">10</text>
<text transform="translate(1395.8 1309.6) scale(0.95 1)" font-size="31.4">1</text>
</svg></body></html>
